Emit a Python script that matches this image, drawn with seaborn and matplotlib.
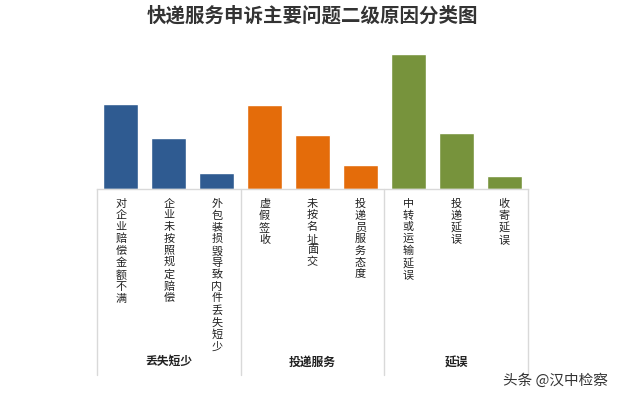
import pandas as pd
import matplotlib.pyplot as plt
import seaborn as sns

# 二级原因及其分组（数值按图中柱高估读）
groups = ["丢失短少", "投递服务", "延误"]
items = ["对企业赔偿金额不满", "企业未按照规定赔偿", "外包装损毁导致内件丢失短少",
         "虚假签收", "未按名址面交", "投递员服务态度",
         "中转或运输延误", "投递延误", "收寄延误"]
item_group = ["丢失短少"] * 3 + ["投递服务"] * 3 + ["延误"] * 3
values = [85, 51, 16, 84, 54, 24, 135, 56, 13]
colors = ["#2f5b91", "#e46c0a", "#77933c"]

sns.set_style("white")
plt.rcParams['font.family'] = ['Noto Sans CJK SC', 'DejaVu Sans']

df = pd.DataFrame({"item": items, "group": item_group, "value": values})

fig = plt.figure(figsize=(6.24, 3.99), dpi=100)
ax = fig.add_axes([97 / 624, 1 - 189 / 399, 431 / 624, 149 / 399])

sns.barplot(data=df, x="item", y="value", hue="group", order=items,
            hue_order=groups, palette=colors, dodge=False, width=0.73,
            saturation=1, legend=False, ax=ax)

ax.set_xlim(-0.5, len(items) - 0.5)
ax.set_ylim(0, 149)
ax.set_xlabel("")
ax.set_ylabel("")
ax.set_yticks([])
for s in ["top", "left", "right"]:
    ax.spines[s].set_visible(False)
ax.spines["bottom"].set_color("#d9d9d9")
ax.spines["bottom"].set_linewidth(1)

# 竖排标签
ax.set_xticks(range(len(items)), ["\n".join(t) for t in items])
ax.tick_params(axis="x", length=0, pad=7, labelsize=8)
for lab in ax.get_xticklabels():
    lab.set_verticalalignment("top")
    lab.set_linespacing(1.2)
    lab.set_color("#222222")

# 分组分隔线和分组名
tr = ax.get_xaxis_transform()
for x in [-0.5, 2.5, 5.5, 8.5]:
    ax.plot([x, x], [0, -1.25], transform=tr, color="#d9d9d9", lw=1, clip_on=False)
for i, g in enumerate(groups):
    ax.text(3 * i + 1, -1.16, g, transform=tr, ha="center", va="center",
            fontsize=8.5, fontweight="bold", color="#222222")

fig.text(312 / 624, 1 - 16 / 399, "快递服务申诉主要问题二级原因分类图", ha="center", va="center",
         fontsize=14, fontweight="bold", color="#333333")
fig.text(555 / 624, 1 - 381 / 399, "头条 @汉中检察", ha="center", va="center",
         fontsize=10.5, color="#333333")

fig.savefig("out.png", dpi=100)
